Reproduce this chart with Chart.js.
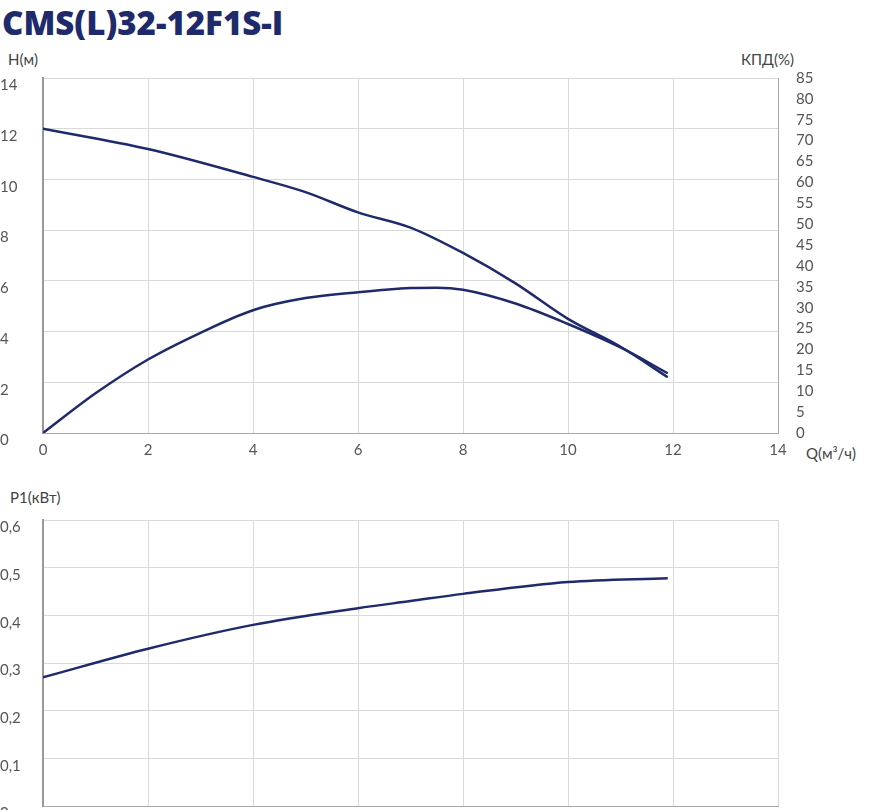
<!DOCTYPE html>
<html><head><meta charset="utf-8">
<script src="https://cdn.jsdelivr.net/npm/chart.js@4"></script>
<style>
body{margin:0;width:870px;height:810px;background:#fff;position:relative;font-family:Lato,"Open Sans",sans-serif;overflow:hidden}
.t{position:absolute;color:#444;font-size:15px}
#title{position:absolute;left:2px;top:0px;font:900 33px "Open Sans",Lato,sans-serif;color:#1f2a6b;letter-spacing:0px}
canvas{position:absolute;left:0}
</style></head><body>
<div id="title">CMS(L)32-12F1S-I</div>
<div class="t" style="left:8px;top:50px">H(м)</div>
<div class="t" style="left:741px;top:50px">КПД(%)</div>
<div class="t" style="left:806px;top:444px">Q(м³/ч)</div>
<div class="t" style="left:10px;top:488px">P1(кВт)</div>
<div style="position:absolute;left:0;top:45px;width:870px;height:430px"><canvas id="c1"></canvas></div>
<div style="position:absolute;left:0;top:490px;width:870px;height:340px"><canvas id="c2"></canvas></div>
<script>
const qH=[0,2,4,5,6,7,8,9,10,11,11.9];
const headH=[12,11.2,10.1,9.5,8.7,8.1,7.1,5.9,4.5,3.4,2.2];
const qE=[0,1,2,3,4,5,6,7,7.5,8,9,10,11,11.9];
const effE=[0,9.5,17.6,24,29.4,32.3,33.7,34.7,34.8,34.3,31,26.1,20.5,14.3];
const qP=[0,2,4,6,7,8,10,11.9];
const powerP=[0.27,0.33,0.38,0.415,0.43,0.445,0.47,0.478];
const col='#1f2a6b', grid='#d9d9d9', tick='#555';
const pts=(x,y)=>x.map((v,i)=>({x:v,y:y[i]}));
const font={family:'Lato, "Open Sans", sans-serif',size:15};
new Chart(document.getElementById('c1'),{type:'line',
data:{datasets:[
{data:pts(qH,headH),yAxisID:'y',borderColor:col,borderWidth:2.5,pointRadius:0,tension:0.4,cubicInterpolationMode:'monotone'},
{data:pts(qE,effE),yAxisID:'y2',borderColor:col,borderWidth:2.5,pointRadius:0,tension:0.4,cubicInterpolationMode:'monotone'}]},
options:{responsive:true,maintainAspectRatio:false,animation:false,layout:{padding:{top:33}},
plugins:{legend:{display:false},tooltip:{enabled:false}},
scales:{
x:{type:'linear',min:0,max:14,ticks:{stepSize:2,color:tick,font,padding:8},grid:{color:grid,drawTicks:false},border:{color:'#aaa'},afterFit:s=>{s.height=42}},
y:{min:0,max:14,ticks:{stepSize:2,color:tick,font,padding:6,align:'start',crossAlign:'far'},grid:{color:grid,drawTicks:false},border:{color:'#999',width:2},afterFit:s=>{s.width=43}},
y2:{position:'right',min:0,max:85,ticks:{stepSize:5,autoSkip:false,color:tick,font,padding:10},grid:{display:false},border:{color:'#aaa'},afterFit:s=>{s.width=92}}
}}});
new Chart(document.getElementById('c2'),{type:'line',
data:{datasets:[{data:pts(qP,powerP),borderColor:col,borderWidth:2.5,pointRadius:0,tension:0.4,cubicInterpolationMode:'monotone'}]},
options:{responsive:true,maintainAspectRatio:false,animation:false,layout:{padding:{top:30,right:92}},
plugins:{legend:{display:false},tooltip:{enabled:false}},
scales:{
x:{type:'linear',min:0,max:14,ticks:{stepSize:2,display:false},grid:{color:grid,drawTicks:false},border:{color:'#aaa'},afterFit:s=>{s.height=5}},
y:{min:0,max:0.6,ticks:{stepSize:0.1,color:tick,font,padding:6,align:'start',crossAlign:'far',callback:v=>String(+v.toFixed(1)).replace('.',',')},grid:{color:grid,drawTicks:false},border:{color:'#999',width:2},afterFit:s=>{s.width=43}}
}}});
</script></body></html>
